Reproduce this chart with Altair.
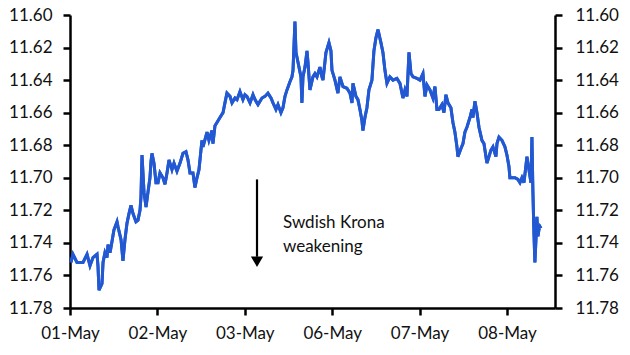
import altair as alt
import pandas as pd

day_labels = ["01-May", "02-May", "03-May", "06-May", "07-May", "08-May"]
y_ticks = [11.60, 11.62, 11.64, 11.66, 11.68, 11.70, 11.72, 11.74, 11.76, 11.78]

# time in trading days since 01-May (weekend removed)
t = [
    0.011, 0.034, 0.080, 0.114, 0.149, 0.195, 0.229, 0.263, 0.309, 0.320, 0.332, 0.366,
    0.378, 0.400, 0.423, 0.435, 0.458, 0.481, 0.503, 0.538, 0.549, 0.584, 0.606, 0.629,
    0.652, 0.675, 0.698, 0.721, 0.755, 0.778, 0.801, 0.812, 0.824, 0.847, 0.870, 0.892,
    0.915, 0.927, 0.938, 0.961, 0.984, 1.007,
    1.030, 1.064, 1.087, 1.110, 1.133, 1.167, 1.190, 1.224, 1.259, 1.293, 1.327, 1.350,
    1.373, 1.407, 1.430, 1.453, 1.476, 1.510, 1.522, 1.568, 1.590, 1.625, 1.636, 1.659,
    1.682, 1.716, 1.751, 1.773, 1.796, 1.831, 1.854, 1.888, 1.911, 1.945, 1.979,
    2.002, 2.025, 2.060, 2.094, 2.117, 2.151, 2.197, 2.231, 2.265, 2.300, 2.323, 2.357,
    2.380, 2.414, 2.437, 2.460, 2.483, 2.517, 2.540, 2.552, 2.574, 2.586, 2.609, 2.643,
    2.654, 2.666, 2.689, 2.712, 2.723, 2.746, 2.780, 2.803, 2.826, 2.860, 2.883, 2.895,
    2.929, 2.963, 2.986,
    2.998, 3.032, 3.066, 3.089, 3.124, 3.169, 3.204, 3.227, 3.238, 3.272, 3.295, 3.318,
    3.341, 3.352, 3.375, 3.398, 3.421, 3.455, 3.478, 3.501, 3.524, 3.558, 3.581, 3.604,
    3.627, 3.661, 3.696, 3.741, 3.776, 3.810, 3.833, 3.856, 3.879, 3.902, 3.925, 3.970,
    4.005,
    4.039, 4.062, 4.085, 4.119, 4.153, 4.176, 4.199, 4.222, 4.256, 4.279, 4.302, 4.325,
    4.359, 4.382, 4.405, 4.428, 4.439, 4.474, 4.497, 4.519, 4.542, 4.577, 4.600, 4.611,
    4.634, 4.657, 4.680, 4.714, 4.737, 4.771, 4.783, 4.817, 4.840, 4.874, 4.886, 4.909,
    4.943, 4.977, 5.000,
    5.023, 5.034, 5.057, 5.092, 5.126, 5.149, 5.172, 5.195, 5.229, 5.240, 5.275, 5.286,
    5.297, 5.309, 5.320, 5.332, 5.343, 5.355, 5.366, 5.378, 5.389,
]

# EUR/SEK rate
rate = [
    11.752, 11.747, 11.752, 11.752, 11.752, 11.747, 11.754, 11.749, 11.747, 11.754, 11.769, 11.765,
    11.752, 11.746, 11.749, 11.741, 11.746, 11.739, 11.732, 11.727, 11.730, 11.738, 11.751, 11.738,
    11.728, 11.722, 11.717, 11.722, 11.727, 11.726, 11.720, 11.712, 11.686, 11.709, 11.718, 11.709,
    11.700, 11.690, 11.685, 11.691, 11.703, 11.703,
    11.697, 11.700, 11.704, 11.697, 11.689, 11.695, 11.691, 11.696, 11.691, 11.685, 11.684, 11.689,
    11.697, 11.697, 11.706, 11.700, 11.695, 11.677, 11.681, 11.672, 11.677, 11.671, 11.679, 11.668,
    11.666, 11.663, 11.660, 11.654, 11.648, 11.650, 11.654, 11.651, 11.652, 11.647, 11.652,
    11.649, 11.650, 11.654, 11.649, 11.652, 11.655, 11.651, 11.650, 11.648, 11.651, 11.654, 11.658,
    11.655, 11.660, 11.657, 11.650, 11.646, 11.641, 11.638, 11.634, 11.604, 11.623, 11.629, 11.638,
    11.654, 11.638, 11.632, 11.622, 11.629, 11.646, 11.638, 11.636, 11.638, 11.632, 11.638, 11.640,
    11.623, 11.617, 11.622,
    11.634, 11.640, 11.648, 11.638, 11.644, 11.645, 11.648, 11.654, 11.642, 11.650, 11.652, 11.658,
    11.665, 11.671, 11.663, 11.657, 11.646, 11.640, 11.622, 11.614, 11.609, 11.617, 11.623, 11.634,
    11.642, 11.638, 11.640, 11.639, 11.642, 11.651, 11.646, 11.650, 11.623, 11.636, 11.638, 11.639,
    11.640,
    11.636, 11.650, 11.643, 11.646, 11.651, 11.644, 11.658, 11.658, 11.655, 11.660, 11.649, 11.654,
    11.657, 11.666, 11.672, 11.681, 11.687, 11.682, 11.679, 11.672, 11.669, 11.663, 11.658, 11.663,
    11.653, 11.660, 11.669, 11.677, 11.679, 11.691, 11.689, 11.683, 11.681, 11.687, 11.679, 11.675,
    11.677, 11.681, 11.686,
    11.693, 11.700, 11.700, 11.700, 11.701, 11.703, 11.700, 11.703, 11.687, 11.691, 11.703, 11.675,
    11.708, 11.734, 11.752, 11.738, 11.724, 11.736, 11.732, 11.730, 11.731,
]

note_lines = ["Swdish Krona", "weakening"]
note_t = [2.437, 2.437]
note_rate = [11.7309, 11.7456]
arrow_t = [2.14]
arrow_from = [11.701]
arrow_to = [11.7485]
arrow_head = [11.7516]

FONT = "Lato"
BLUE = "#2259D3"

df = pd.DataFrame({"t": t, "rate": rate})
notes = pd.DataFrame({"t": note_t, "rate": note_rate, "txt": note_lines})
arrow = pd.DataFrame({"t": arrow_t, "a": arrow_from, "b": arrow_to, "h": arrow_head})

label_expr = "[" + ",".join("'%s'" % s for s in day_labels) + "][datum.value]"

xscale = alt.Scale(domain=[0, 5.55], nice=False, zero=False)
yscale = alt.Scale(domain=[11.60, 11.78], reverse=True, nice=False, zero=False)


def xaxis():
    return alt.Axis(values=list(range(len(day_labels))), labelExpr=label_expr, grid=False,
                    title=None, tickSize=7, labelPadding=10, domainWidth=2.5, tickWidth=2.5,
                    domainColor="black", tickColor="black", labelFont=FONT, labelFontSize=17,
                    labelColor="#111111", labelFlush=False)


def yaxis(orient):
    return alt.Axis(orient=orient, values=y_ticks, format=".2f", grid=False, title=None,
                    tickSize=7, labelPadding=11 if orient == "left" else 13,
                    domainWidth=2.5, tickWidth=2.5, domainColor="black",
                    tickColor="black", labelFont=FONT, labelFontSize=17,
                    labelColor="#111111", labelFlush=False)


left_line = alt.Chart(df).mark_line(color=BLUE, strokeWidth=3).encode(
    x=alt.X("t:Q", scale=xscale, axis=xaxis()),
    y=alt.Y("rate:Q", scale=yscale, axis=yaxis("left")),
)
right_line = alt.Chart(df).mark_line(color=BLUE, strokeWidth=3).encode(
    x=alt.X("t:Q", scale=xscale, axis=xaxis()),
    y=alt.Y("rate:Q", scale=yscale, axis=yaxis("right")),
)

arrow_rule = alt.Chart(arrow).mark_rule(color="black", strokeWidth=2.2).encode(
    x=alt.X("t:Q", scale=xscale, axis=xaxis()),
    y=alt.Y("a:Q", scale=yscale, axis=None),
    y2="b:Q",
)
arrow_tip = alt.Chart(arrow).mark_point(shape="triangle-down", filled=True, color="black",
                                        size=150, opacity=1).encode(
    x=alt.X("t:Q", scale=xscale, axis=xaxis()),
    y=alt.Y("h:Q", scale=yscale, axis=None),
)
note_text = alt.Chart(notes).mark_text(align="left", baseline="alphabetic", font=FONT,
                                       fontSize=17, color="#111111").encode(
    x=alt.X("t:Q", scale=xscale, axis=xaxis()),
    y=alt.Y("rate:Q", scale=yscale, axis=None),
    text="txt:N",
)

chart = alt.layer(left_line, right_line, arrow_rule, arrow_tip, note_text).resolve_scale(
    y="independent"
).properties(
    width=485,
    height=293,
    autosize=alt.AutoSizeParams(type="none"),
    padding={"left": 70, "top": 15, "right": 75, "bottom": 47},
    background="white",
).configure_view(stroke=None)

chart.save("out.html", embed_options={"renderer": "svg", "actions": False})
